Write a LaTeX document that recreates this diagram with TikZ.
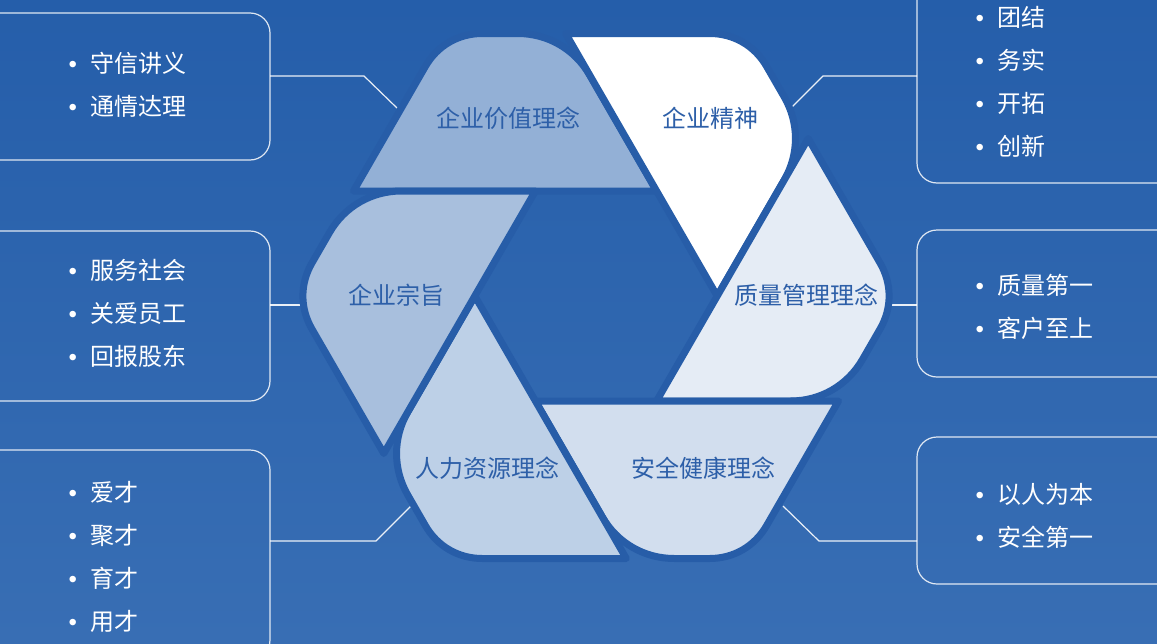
\documentclass[tikz,border=0pt]{standalone}
\usepackage{fontspec}
\setmainfont{Noto Sans CJK SC}
\newfontfamily\bulletfont{Liberation Sans}
\usepackage{tikz}
\usetikzlibrary{calc}

\definecolor{bgtop}{RGB}{37,94,170}
\definecolor{bgbot}{RGB}{56,110,180}
\definecolor{gapblue}{RGB}{39,93,168}
\definecolor{labelblue}{RGB}{45,95,168}
\definecolor{valuefill}{RGB}{147,176,214}
\definecolor{spiritfill}{RGB}{255,255,255}
\definecolor{qualityfill}{RGB}{229,236,245}
\definecolor{safetyfill}{RGB}{210,222,238}
\definecolor{hrfill}{RGB}{189,208,231}
\definecolor{aimfill}{RGB}{168,191,221}

\newcommand{\blt}{\makebox[22pt][l]{\bulletfont\textbullet}}
\newcommand{\outerr}{38pt}
\newcommand{\outerc}{14pt}
\newcommand{\foldr}{48pt}
\newcommand{\foldc}{18pt}
% #1 fill, #2 outer corner, #3 fold corner, #4 inner tip, #5 tail tip
\newcommand{\drawpiece}[5]{%
  \filldraw[piece, fill=#1] (#5) -- ($(#2)!\outerr!(#5)$)
    .. controls ($(#2)!\outerc!(#5)$) and ($(#2)!\outerc!(#3)$) .. ($(#2)!\outerr!(#3)$)
    -- ($(#3)!\foldr!(#2)$)
    .. controls ($(#3)!\foldc!(#2)$) and ($(#3)!\foldc!(#4)$) .. ($(#3)!\foldr!(#4)$)
    -- (#4) -- cycle;}

\begin{document}
\begin{tikzpicture}[
    x=1pt, y=-1pt,
    piece/.style={draw=gapblue, line width=7pt, line join=round},
    piecelabel/.style={font=\fontsize{24}{28}\selectfont, text=labelblue, inner sep=0pt},
    infobox/.style={draw=white, draw opacity=0.85, line width=1.2pt, rounded corners=20pt, inner sep=0pt, outer sep=0pt},
    itemlist/.style={anchor=west, align=left, inner sep=0pt, text=white, font=\fontsize{24}{43}\selectfont},
    link/.style={draw=white, draw opacity=0.9, line width=1.2pt}
]
\useasboundingbox (0,0) rectangle (1157,643);
\clip (0,0) rectangle (1157,643);
\shade[top color=bgtop, bottom color=bgbot] (0,0) rectangle (1157,643);

% Boxes
\node[infobox, minimum width=290pt, minimum height=147pt] (valuebox) at (125,86.5) {};
\node[infobox, minimum width=290pt, minimum height=170pt] (aimbox) at (125,316) {};
\node[infobox, minimum width=290pt, minimum height=210pt] (hrbox) at (125,555) {};
\node[infobox, minimum width=263pt, minimum height=203pt] (spiritbox) at (1048.5,81.5) {};
\node[infobox, minimum width=263pt, minimum height=147pt] (qualitybox) at (1048.5,303.5) {};
\node[infobox, minimum width=263pt, minimum height=147pt] (safetybox) at (1048.5,510.5) {};

% Lists
\node[itemlist] (valuelist) at (68.5,84.5) {\blt 守信讲义\\ \blt 通情达理};
\node[itemlist] (aimlist) at (68.5,313.5) {\blt 服务社会\\ \blt 关爱员工\\ \blt 回报股东};
\node[itemlist] (hrlist) at (68.5,557) {\blt 爱才\\ \blt 聚才\\ \blt 育才\\ \blt 用才};
\node[itemlist] (spiritlist) at (975.5,81.5) {\blt 团结\\ \blt 务实\\ \blt 开拓\\ \blt 创新};
\node[itemlist] (qualitylist) at (975.5,307) {\blt 质量第一\\ \blt 客户至上};
\node[itemlist] (safetylist) at (975.5,516) {\blt 以人为本\\ \blt 安全第一};

% Connectors
\coordinate (valuebend) at (364,76);
\coordinate (valuetip) at (397,108);
\coordinate (aimtip) at (301,305);
\coordinate (hrbend) at (376,541);
\coordinate (hrtip) at (411,506);
\coordinate (spiritbend) at (823,76);
\coordinate (spirittip) at (791,108);
\coordinate (qualitytip) at (887,305);
\coordinate (safetybend) at (819,541);
\coordinate (safetytip) at (783,506);
\draw[link] (valuebox.east |- valuebend) -- (valuebend) -- (valuetip);
\draw[link] (aimbox.east |- aimtip) -- (aimtip);
\draw[link] (hrbox.east |- hrbend) -- (hrbend) -- (hrtip);
\draw[link] (spiritbox.west |- spiritbend) -- (spiritbend) -- (spirittip);
\draw[link] (qualitybox.west |- qualitytip) -- (qualitytip);
\draw[link] (safetybox.west |- safetybend) -- (safetybend) -- (safetytip);

% Hexagon corners
\coordinate (H1) at (444.4,33.5);
\coordinate (H2) at (747.6,33.5);
\coordinate (H3) at (899.1,296);
\coordinate (H4) at (747.6,558.5);
\coordinate (H5) at (444.4,558.5);
\coordinate (H6) at (292.9,296);
% fold corners
\coordinate (P1) at (565.7,33.5);
\coordinate (P2) at (808.2,138.5);
\coordinate (P3) at (838.5,401);
\coordinate (P4) at (626.3,558.5);
\coordinate (P5) at (383.8,453.5);
\coordinate (P6) at (353.5,191);
% inner tips
\coordinate (I1) at (656.6,191);
\coordinate (I2) at (717.2,296);
\coordinate (I3) at (656.6,401);
\coordinate (I4) at (535.4,401);
\coordinate (I5) at (474.8,296);
\coordinate (I6) at (535.4,191);

% Pieces
\drawpiece{valuefill}{H1}{P1}{I1}{P6}
\drawpiece{spiritfill}{H2}{P2}{I2}{P1}
\drawpiece{qualityfill}{H3}{P3}{I3}{P2}
\drawpiece{safetyfill}{H4}{P4}{I4}{P3}
\drawpiece{hrfill}{H5}{P5}{I5}{P4}
\drawpiece{aimfill}{H6}{P6}{I6}{P5}

% Labels
\node[piecelabel] (value) at (508,118) {企业价值理念};
\node[piecelabel] (spirit) at (710,118) {企业精神};
\node[piecelabel] (quality) at (806,295) {质量管理理念};
\node[piecelabel] (safety) at (703,468) {安全健康理念};
\node[piecelabel] (hr) at (487,468) {人力资源理念};
\node[piecelabel] (aim) at (396,295) {企业宗旨};

\end{tikzpicture}
\end{document}
